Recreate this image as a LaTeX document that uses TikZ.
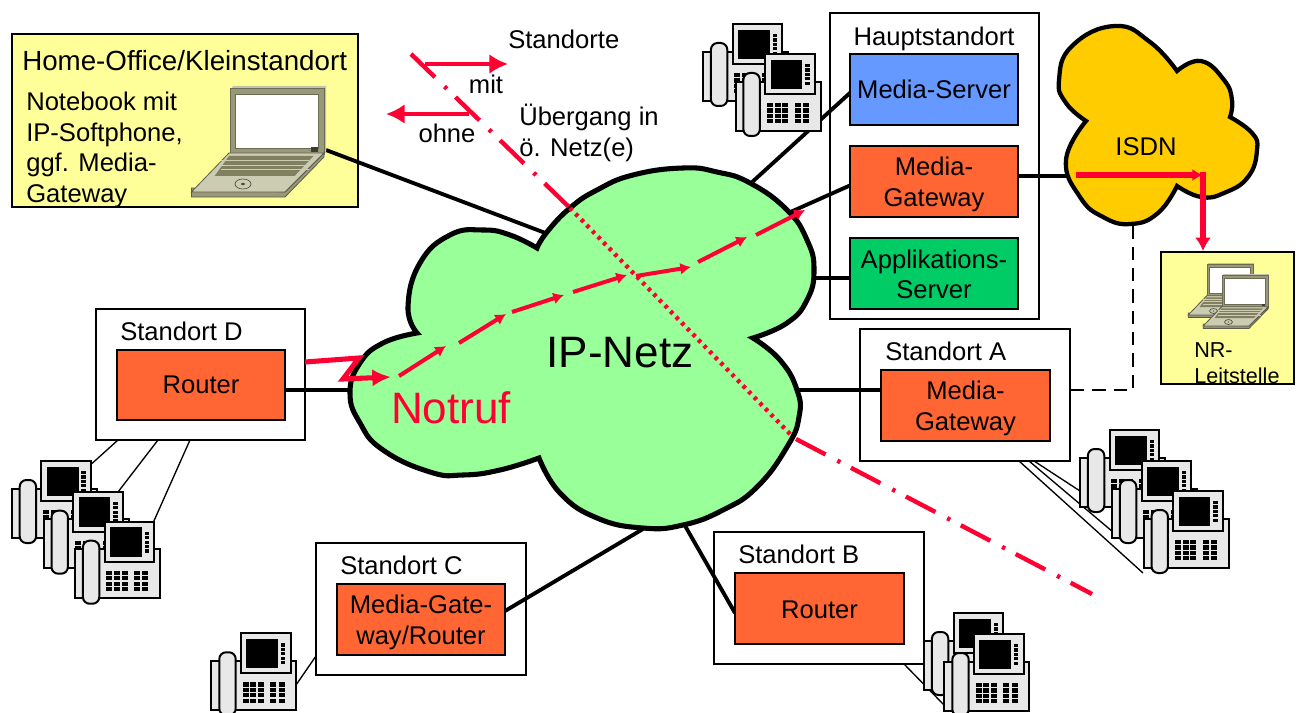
\documentclass[tikz,border=0pt]{standalone}
\usepackage{fontspec}
\setmainfont{Liberation Sans}
\usetikzlibrary{arrows.meta}
\definecolor{nred}{HTML}{FF0033}
\definecolor{norange}{HTML}{FF6633}
\definecolor{nblue}{HTML}{6699FF}
\definecolor{ngreen}{HTML}{00CC66}
\definecolor{nyellow}{HTML}{FFFF99}
\definecolor{ncloud}{HTML}{99FF99}
\definecolor{nisdn}{HTML}{FFCC00}
\definecolor{lid}{HTML}{99997A}
\definecolor{lbase}{HTML}{CCCCB3}
\definecolor{lkeys}{HTML}{808060}
\definecolor{pgrey}{HTML}{E8E8E8}
\newcommand\dnline[1]{\raisebox{-2pt}[\height][\depth]{#1}}
\newcommand\dnsmall[1]{\raisebox{-.8pt}[\height][\depth]{#1}}
\tikzset{
  sized/.style 2 args={minimum width=#1*0.75pt,minimum height=#2*0.75pt},
  box/.style={draw=black,line width=1.7pt,inner sep=0pt,align=center,font=\fontsize{19.2}{22.9}\selectfont},
  txt/.style={inner sep=0pt,align=left,font=\fontsize{19.2}{22.9}\selectfont},
  link/.style={draw=black,line width=2.9pt},
  thin link/.style={draw=black,line width=1pt},
  cloudline/.style={draw=black,line width=3.8pt,line join=miter},
  redline/.style={draw=nred,line width=3.3pt},
  hop/.style={draw=nred,line width=3pt,-{Latex[length=8pt,width=9pt]}},
  bighop/.style={draw=nred,line width=3.8pt,-{Latex[length=14pt,width=13pt]}},
  phone/.pic={
    \draw[black,line width=1.5pt,fill=pgrey] (0,27.7) rectangle (85,76.7);
    \draw[black,line width=1.5pt,fill=pgrey,rounded corners=5pt] (7.9,19) rectangle (24.3,82);
    \draw[black,line width=1.5pt,fill=pgrey] (29.6,0) rectangle (79.3,40);
    \fill[black] (35,5.7) rectangle (66.8,35);
    \foreach \b in {10,14.4,18.8,23.2,27.6}{\fill[black] (69.6,\b) rectangle (74,\b+3.2);}
    \foreach \r in {49,54.4,59.8,65.2}{
      \foreach \c in {31.4,39,46.6,59,67.4}{\fill[black] (\c,\r) rectangle (\c+6,\r+4.2);}}
  },
  laptop/.pic={
    \fill[lid!60!white] (39.6,4) -- (42,0) -- (135,0) -- (135,67) -- (39.6,67) -- cycle;
    \draw[lid!70!black,line width=.5pt,fill=lid] (39.6,2) rectangle (133,68);
    \fill[white] (44,8) rectangle (127.6,62);
    \draw[lid!70!black,line width=.5pt] (44,8) rectangle (127.6,62);
    \fill[lid!40!black] (120,61) -- (127,61) -- (127,66) -- (120,66) -- cycle;
    \draw[lid!60!black,line width=.6pt,fill=lid] (0.5,102) -- (0.5,111) -- (94,111) -- (133,71) -- (133,67) -- (94,106) -- cycle;
    \draw[lid!60!black,line width=.6pt,fill=lbase] (38,67) -- (133,67) -- (94,106) -- (0.5,106) -- cycle;
    \fill[lkeys] (38,70) -- (122.5,70) -- (103.6,90) -- (23.6,90) -- cycle;
    \foreach \k in {74.5,79,83.5}{\draw[lbase,line width=.5pt] (30,\k) -- (118,\k);}
    \draw[lid!50!black,line width=.5pt] (52,98) ellipse (8 and 5);
    \fill[lid!50!black] (52,98) ellipse (2 and 1.2);
  }
}
\begin{document}
\begin{tikzpicture}[x=0.75pt,y=-0.75pt]
\useasboundingbox (0,0) rectangle (1302,713);
\coordinate (cHome) at (548,234);
\coordinate (cMS) at (750,184);
\coordinate (cMG) at (786,214);
\coordinate (cAS) at (812,278);
\coordinate (iMG) at (1068,176);
\coordinate (cA) at (795,390);
\coordinate (cD) at (353,390);
\coordinate (cC) at (643,529);
\coordinate (cB) at (684,524);
\coordinate (iDash) at (1133,226);
\coordinate (kDash) at (1133,390);
\coordinate (lapEnd) at (326,150);
\coordinate (pD1) at (87,468);
\coordinate (pD2) at (118,492);
\coordinate (pD3) at (149,532);
\coordinate (pC) at (296,685);
\coordinate (pA1) at (1080,491);
\coordinate (pA2) at (1113,532);
\coordinate (pA3) at (1143,573);
\coordinate (pB) at (944,705);
% outer boxes
\node[box,fill=nyellow,sized={346}{173}] (home) at (185,120.5) {};
\node[box,fill=white,sized={209}{306}] (haupt) at (934.5,166) {};
\node[box,fill=nyellow,sized={133}{132}] (nr) at (1227.5,318) {};
\node[box,fill=white,sized={210}{132}] (sA) at (965,395) {};
\node[box,fill=white,sized={210}{132}] (sB) at (819,598) {};
\node[box,fill=white,sized={210}{132}] (sC) at (421,609) {};
\node[box,fill=white,sized={209}{131}] (sD) at (200.5,374.5) {};
\path (934,89.5) coordinate (msC) (934,181.5) coordinate (mgC) (934,273.5) coordinate (asC);
% connectors
\draw[link] (lapEnd) -- (cHome);
\draw[link] (cMS) -- (851,92);
\draw[link] (cMG) -- (851,185);
\draw[link] (cAS) -- (851,278);
\draw[link] (1018,176) -- (iMG);
\draw[link] (cA) -- (881,390);
\draw[link] (285,390) -- (cD);
\draw[link] (505,611) -- (cC);
\draw[link] (cB) -- (735,613);
\draw[draw=black,line width=2.2pt,dash pattern=on 10pt off 6pt] (sA.east |- kDash) -- (kDash) -- (iDash);
\draw[thin link] (118,440) -- (pD1);
\draw[thin link] (158,440) -- (pD2);
\draw[thin link] (190,440) -- (pD3);
\draw[thin link] (316,656) -- (pC);
\draw[thin link] (1034,461) -- (pA1);
\draw[thin link] (1029,461) -- (pA2);
\draw[thin link] (1019,461) -- (pA3);
\draw[thin link] (904,664) -- (pB);
% inner boxes
\node[box,fill=nblue,sized={168}{71}] (ms) at (msC) {Media-Server};
\node[box,fill=norange,sized={168}{71}] (mg) at (mgC) {\dnline{Media-}\\\dnline{Gateway}};
\node[box,fill=ngreen,sized={168}{71}] (as) at (asC) {\dnsmall{Applikations-}\\\dnsmall{Server}};
\node[box,fill=norange,sized={169}{71}] (mgA) at (965.5,405.5) {\dnline{Media-}\\\dnline{Gateway}};
\node[box,fill=norange,sized={169}{71}] (rB) at (819.5,608.5) {\dnsmall{Router}};
\node[box,fill=norange,sized={168}{71}] (mgCC) at (421,619.5) {\dnline{Media-Gate-}\\\dnline{way/Router}};
\node[box,fill=norange,sized={168}{70}] (rD) at (201,385) {Router};
% clouds
\draw[cloudline,fill=ncloud]
  plot[smooth,tension=.8] coordinates {(537,248)(547,232)(570,208)(597,190)(633,175)(683,168)(717,172)(750,183)(787,210)(807,240)(814,270)(807,300)(787,323)(753,338)}
  -- plot[smooth,tension=.8] coordinates {(753,338)(780,360)(797,390)(799,417)(787,447)(757,487)(723,510)(683,525)(643,528)(597,518)(560,493)(539,458)}
  -- plot[smooth,tension=.8] coordinates {(539,458)(500,470)(463,475)(430,472)(383,450)(360,423)(350,393)(360,363)(383,343)(417,333)}
  -- plot[smooth,tension=.8] coordinates {(417,333)(408,307)(420,263)(450,235)(483,230)(510,235)(537,248)}
  -- cycle;
\draw[cloudline,line width=3.2pt,fill=nisdn]
  plot[smooth,tension=.8] coordinates {(1177,71)(1201,61)(1224,80)(1232,100)(1230,117)}
  -- plot[smooth,tension=.8] coordinates {(1230,117)(1252,133)(1257,150)(1248,177)(1224,193)(1201,197)(1177,186)}
  -- plot[smooth,tension=.8] coordinates {(1177,186)(1158,213)(1131,224)(1103,217)(1080,197)(1066,160)(1086,121)}
  -- plot[smooth,tension=.8] coordinates {(1086,121)(1066,103)(1059,80)(1072,46)(1115,26)(1150,42)(1177,71)}
  -- cycle;
% phones
\pic at (703,24) {phone};
\pic at (735.5,54) {phone};
\pic at (11.8,461) {phone};
\pic at (43.6,491.7) {phone};
\pic at (75,521.7) {phone};
\pic at (211.4,633.3) {phone};
\pic at (1080,430) {phone};
\pic at (1112,461) {phone};
\pic at (1143.6,491) {phone};
\pic at (924,613) {phone};
\pic at (944.4,634) {phone};
% notebooks
\pic at (191,86) {laptop};
\pic[scale=.49] at (1188,263) {laptop};
\pic[scale=.49] at (1203,274) {laptop};
% red lines
\coordinate (rA) at (411,54);
\coordinate (rB1) at (570,208);
\coordinate (rB2) at (793,437);
\coordinate (rC) at (1092,594);
\draw[redline,dash pattern=on 25pt off 10pt on 2.5pt off 9pt] (rA) -- (rB1);
\draw[redline,dash pattern=on 2.6pt off 3.4pt] (rB1) -- (rB2);
\draw[redline,dash pattern=on 25pt off 10pt on 2.5pt off 9pt] (rB2) ++(3,2) -- (rC);
\coordinate (legA) at (425,64); \coordinate (legB) at (508,64);
\coordinate (legC) at (469,114); \coordinate (legD) at (386,114);
\draw[redline,line width=3.4pt,-{Latex[length=14pt,width=15pt]}] (legA) -- (legB);
\draw[redline,line width=3.4pt,-{Latex[length=14pt,width=15pt]}] (legC) -- (legD);
% emergency-call route
\coordinate (n0) at (305,362); \coordinate (n1) at (359,358);
\coordinate (n2) at (343,379); \coordinate (n3) at (391,377);
\draw[bighop] (n0) -- (n1) -- (n2) -- (n3);
\foreach \a/\b/\c/\d in {399/376/446/346,459/343/506/314,512/312/564/295,573/292/627/275,636/276/691/267,698/262/747/237,756/235/805/210}
  \draw[hop] (\a,\b) -- (\c,\d);
\coordinate (i0) at (1076,175); \coordinate (i1) at (1203,175); \coordinate (i2) at (1203,251);
\draw[hop,line width=3.8pt] (i0) -- (i1);
\draw[redline,line width=3.8pt,-{Latex[length=10pt,width=12pt]}] (1203,172) -- (i2);
% texts
\node[inner sep=0pt,anchor=base west,font=\fontsize{20.8}{24}\selectfont] (t1) at (22,71) {Home-Office/Kleinstandort};
\node[txt,anchor=north west] (t2) at (26,92) {Notebook mit\\IP-Softphone,\\ggf. Media-\\Gateway};
\node[txt,anchor=base west] (t3) at (508,49) {Standorte};
\node[txt,anchor=base] (t4) at (486,94) {mit};
\node[txt,anchor=base] (t5) at (447,143) {ohne};
\node[txt,anchor=north west] (t6) at (519,104) {Übergang in\\ö. Netz(e)};
\node[txt,anchor=base] (t7) at (934,46) {Hauptstandort};
\node[txt,anchor=base] (t8) at (1146,156) {ISDN};
\node[txt,anchor=base west] (t9) at (885,360) {Standort A};
\node[txt,anchor=base west] (t10) at (738,563) {Standort B};
\node[txt,anchor=base west] (t11) at (340,574) {Standort C};
\node[txt,anchor=base west] (t12) at (120,340) {Standort D};
\node[inner sep=0pt,anchor=base,font=\fontsize{33}{33}\selectfont] (t13) at (620,367) {IP-Netz};
\node[inner sep=0pt,anchor=base,text=nred,font=\fontsize{33}{33}\selectfont] (t14) at (451,423) {Notruf};
\node[inner sep=0pt,align=left,anchor=north west,font=\fontsize{16.2}{19.8}\selectfont] (t15) at (1194,342) {NR-\\Leitstelle};
\end{tikzpicture}
\end{document}
